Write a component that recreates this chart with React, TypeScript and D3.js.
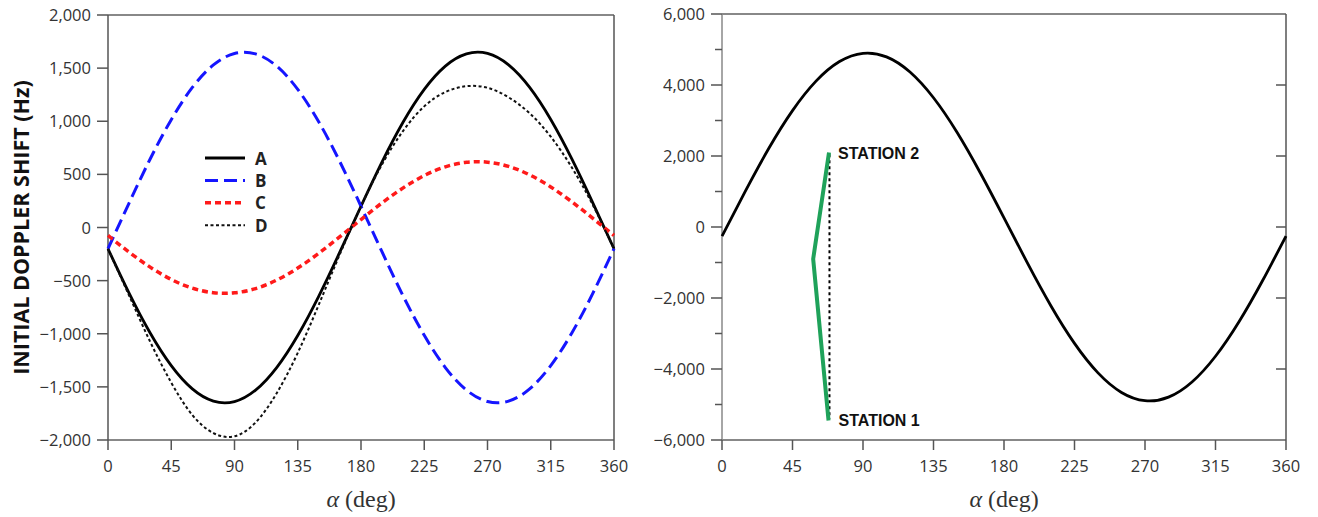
import React from "react";
import * as d3 from "d3";

// angle samples (deg)
const alphaDeg = [0, 15, 30, 45, 60, 75, 90, 105, 120, 135, 150, 165, 180, 195, 210, 225, 240, 255, 270, 285, 300, 315, 330, 345, 360];

// left panel series (Hz)
const seriesA = [-200, -618, -993, -1300, -1519, -1634, -1638, -1530, -1318, -1016, -645, -230, 200, 618, 993, 1300, 1519, 1634, 1638, 1530, 1318, 1016, 645, 230, -200];
const seriesB = [-200, 230, 645, 1015, 1318, 1530, 1638, 1634, 1519, 1300, 993, 618, 200, -230, -645, -1015, -1318, -1530, -1638, -1634, -1519, -1300, -993, -618, -200];
const seriesC = [-75, -232, -373, -489, -571, -614, -615, -575, -495, -382, -242, -86, 75, 232, 373, 489, 571, 614, 615, 575, 495, 382, 242, 86, -75];
const seriesD = [-200, -640, -1075, -1460, -1765, -1935, -1965, -1835, -1560, -1180, -725, -250, 200, 595, 910, 1140, 1275, 1330, 1315, 1225, 1075, 855, 565, 210, -200];

// right panel series (Hz)
const seriesR = [-256, 1019, 2225, 3279, 4109, 4660, 4893, 4793, 4366, 3641, 2669, 1514, 256, -1019, -2225, -3279, -4109, -4660, -4893, -4793, -4366, -3641, -2669, -1514, -256];

// station track (alpha deg, Hz)
const stationAlpha = [68.3, 58.2, 68.0];
const stationShift = [2100, -900, -5450];
const stationLabels = ["STATION 2", "STATION 1"];
const dottedAlpha = [68.6, 68.6];
const dottedShift = [2050, -5400];

const xTicks = [0, 45, 90, 135, 180, 225, 270, 315, 360];
const leftYTicks = [-2000, -1500, -1000, -500, 0, 500, 1000, 1500, 2000];
const rightYMajor = [-6000, -4000, -2000, 0, 2000, 4000, 6000];
const rightYMinor = [-5000, -3000, -1000, 1000, 3000, 5000];

const legendNames = ["A", "B", "C", "D"];

const fmt = d3.format(",");
const tickFont = "'Open Sans', 'Noto Sans', sans-serif";
const tickSize = 16.5;
const axisColor = "#555";
const frameColor = "#888";
const serif = "'Liberation Serif', 'DejaVu Serif', serif";

type Style = { color: string; width: number; dash?: string };
const styles: Style[] = [
  { color: "#000", width: 2.8 },
  { color: "#1515ff", width: 3, dash: "13,6" },
  { color: "#ff1a1a", width: 3.5, dash: "6,4" },
  { color: "#111", width: 2, dash: "3,2.5" },
];

function XAxis({ x, y0 }: { x: d3.ScaleLinear<number, number>; y0: number }) {
  return (
    <g>
      {xTicks.map((t) => (
        <g key={t}>
          <line x1={x(t)} x2={x(t)} y1={y0} y2={y0 + 10} stroke={axisColor} strokeWidth={1.5} />
          <text x={x(t)} y={y0 + 32} textAnchor="middle" fontFamily={tickFont} fontSize={tickSize} fill="#333">
            {t}
          </text>
        </g>
      ))}
    </g>
  );
}

export default function App() {
  const xL = d3.scaleLinear().domain([0, 360]).range([108, 614]);
  const yL = d3.scaleLinear().domain([-2000, 2000]).range([440, 15]);
  const xR = d3.scaleLinear().domain([0, 360]).range([722, 1286]);
  const yR = d3.scaleLinear().domain([-6000, 6000]).range([440, 14]);

  const lineL = d3
    .line<number>()
    .x((_, i) => xL(alphaDeg[i]))
    .y((v) => yL(v))
    .curve(d3.curveNatural);
  const lineR = d3
    .line<number>()
    .x((_, i) => xR(alphaDeg[i]))
    .y((v) => yR(v))
    .curve(d3.curveNatural);
  const stationLine = d3
    .line<number>()
    .x((_, i) => xR(stationAlpha[i]))
    .y((v) => yR(v));
  const dottedLine = d3
    .line<number>()
    .x((_, i) => xR(dottedAlpha[i]))
    .y((v) => yR(v));

  const leftSeries = [seriesA, seriesB, seriesC, seriesD];

  return (
    <svg width={1318} height={517} style={{ position: "absolute", left: 0, top: 0, background: "#fff" }}>
      <rect width={1318} height={517} fill="#fff" />
      {/* ---------- LEFT PANEL ---------- */}
      <g>
        <line x1={xL(0)} x2={xL(360)} y1={yL(2000)} y2={yL(2000)} stroke={frameColor} strokeWidth={2} />
        <line x1={xL(0)} x2={xL(360)} y1={yL(-2000)} y2={yL(-2000)} stroke={frameColor} strokeWidth={2} />
        <line x1={xL(0)} x2={xL(0)} y1={yL(2000)} y2={yL(-2000)} stroke={axisColor} strokeWidth={1.5} />
        <line x1={xL(360)} x2={xL(360)} y1={yL(2000)} y2={yL(-2000)} stroke={axisColor} strokeWidth={1.5} />
        {leftYTicks.map((t) => (
          <g key={t}>
            <line x1={xL(0) - 11} x2={xL(0)} y1={yL(t)} y2={yL(t)} stroke={axisColor} strokeWidth={1.5} />
            <text x={xL(0) - 17} y={yL(t) + 6} textAnchor="end" fontFamily={tickFont} fontSize={tickSize} fill="#333">
              {fmt(t)}
            </text>
          </g>
        ))}
        <XAxis x={xL} y0={yL(-2000)} />
        <text
          transform={`translate(29, ${yL(0)}) rotate(-90)`}
          textAnchor="middle"
          fontFamily={tickFont}
          fontWeight="bold"
          fontSize={21.5}
          fill="#111"
        >
          INITIAL DOPPLER SHIFT (Hz)
        </text>
        <text x={(xL(0) + xL(360)) / 2} y={507} textAnchor="middle" fontFamily={serif} fontSize={24} fill="#333">
          <tspan fontStyle="italic">α</tspan> (deg)
        </text>
        {leftSeries.map((s, i) => (
          <path
            key={i}
            d={lineL(s) || ""}
            fill="none"
            stroke={styles[i].color}
            strokeWidth={styles[i].width}
            strokeDasharray={styles[i].dash}
          />
        ))}
        {legendNames.map((n, i) => (
          <g key={n} transform={`translate(205, ${158 + i * 22.4})`}>
            <line x1={0} x2={40} y1={0} y2={0} stroke={styles[i].color} strokeWidth={styles[i].width} strokeDasharray={styles[i].dash} />
            <text x={50} y={6.5} fontFamily={tickFont} fontWeight="bold" fontSize={17} fill="#222">
              {n}
            </text>
          </g>
        ))}
      </g>

      {/* ---------- RIGHT PANEL ---------- */}
      <g>
        <line x1={xR(0)} x2={xR(360)} y1={yR(6000)} y2={yR(6000)} stroke={frameColor} strokeWidth={2} />
        <line x1={xR(0)} x2={xR(360)} y1={yR(-6000)} y2={yR(-6000)} stroke={frameColor} strokeWidth={2} />
        <line x1={xR(0)} x2={xR(0)} y1={yR(6000)} y2={yR(-6000)} stroke={frameColor} strokeWidth={1.5} />
        <line x1={xR(360)} x2={xR(360)} y1={yR(6000)} y2={yR(-6000)} stroke={axisColor} strokeWidth={1.5} />
        {rightYMajor.map((t) => (
          <g key={t}>
            <line x1={xR(0) - 11} x2={xR(0)} y1={yR(t)} y2={yR(t)} stroke={axisColor} strokeWidth={1.5} />
            <text x={xR(0) - 17} y={yR(t) + 6} textAnchor="end" fontFamily={tickFont} fontSize={tickSize} fill="#333">
              {fmt(t)}
            </text>
            {t !== 6000 && t !== -6000 && (
              <line x1={xR(360) - 10} x2={xR(360)} y1={yR(t)} y2={yR(t)} stroke={axisColor} strokeWidth={1.5} />
            )}
          </g>
        ))}
        {rightYMinor.map((t) => (
          <line key={t} x1={xR(0) - 7} x2={xR(0)} y1={yR(t)} y2={yR(t)} stroke={axisColor} strokeWidth={1.5} />
        ))}
        <XAxis x={xR} y0={yR(-6000)} />
        <text x={(xR(0) + xR(360)) / 2} y={507} textAnchor="middle" fontFamily={serif} fontSize={24} fill="#333">
          <tspan fontStyle="italic">α</tspan> (deg)
        </text>
        <path d={lineR(seriesR) || ""} fill="none" stroke="#000" strokeWidth={2.8} />
        <path d={dottedLine(dottedShift) || ""} fill="none" stroke="#000" strokeWidth={2} strokeDasharray="3,3" />
        <path d={stationLine(stationShift) || ""} fill="none" stroke="#1fa25a" strokeWidth={4} />
        <text x={xR(stationAlpha[0]) + 9} y={yR(stationShift[0]) + 7} fontFamily="'Liberation Sans', Arial, sans-serif" fontWeight="bold" fontSize={16} fill="#111">
          {stationLabels[0]}
        </text>
        <text x={xR(stationAlpha[2]) + 10} y={yR(stationShift[2]) + 6} fontFamily="'Liberation Sans', Arial, sans-serif" fontWeight="bold" fontSize={16} fill="#111">
          {stationLabels[1]}
        </text>
      </g>
    </svg>
  );
}
